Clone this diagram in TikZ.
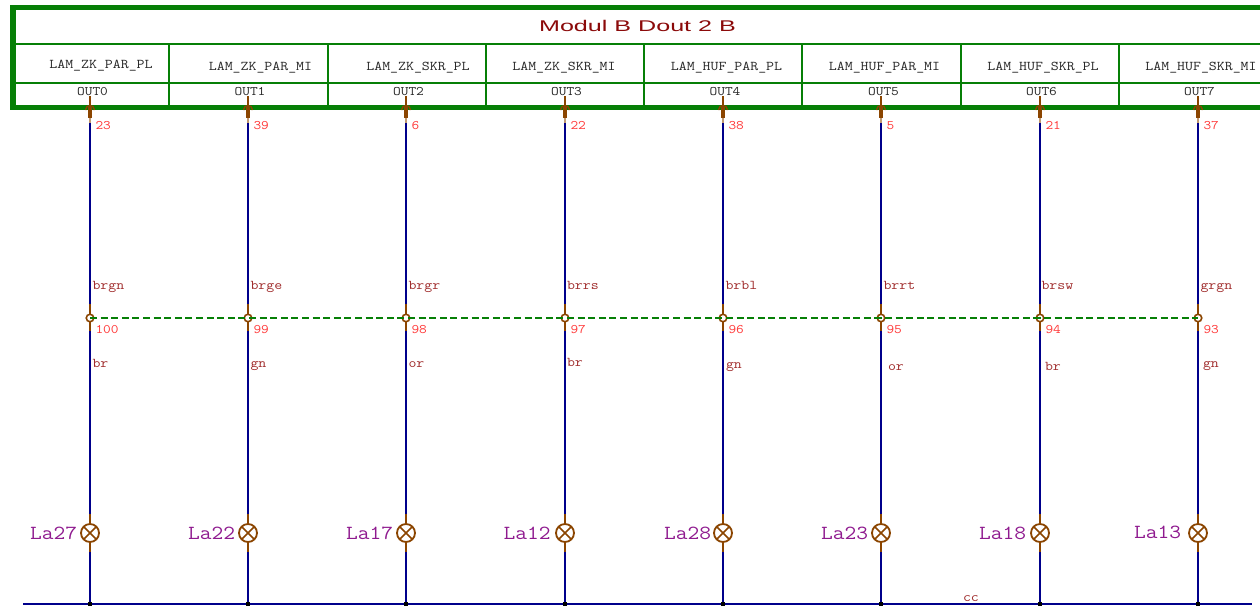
\documentclass[tikz,border=0pt]{standalone}
\usepackage{fontspec}
\usetikzlibrary{calc}
\setmainfont{Liberation Sans}
\newfontfamily\wmono[FakeStretch=1.15]{Latin Modern Mono}
\newfontfamily\lmono[FakeStretch=1.14]{Latin Modern Mono}
\newfontfamily\tsans[FakeStretch=1.62]{Liberation Sans}
\definecolor{fgreen}{HTML}{067F06}
\definecolor{wblue}{HTML}{00008B}
\definecolor{wbrown}{HTML}{8B4500}
\definecolor{ctext}{HTML}{A02C2C}
\definecolor{rednum}{HTML}{FF3838}
\definecolor{lampname}{HTML}{8F1A8F}
\definecolor{titlered}{HTML}{8B0A0A}
\tikzset{
  x=1pt,y=-1pt,
  txt/.style={inner sep=0pt,outer sep=0pt},
  sig/.style={txt,anchor=base,font=\wmono\fontsize{13.4}{14}\selectfont,text=black!85},
  pinlab/.style={txt,anchor=base,font=\wmono\fontsize{13}{14}\selectfont,text=black!85},
  cable/.style={txt,anchor=base west,font=\wmono\fontsize{13.4}{14}\selectfont,text=ctext},
  num/.style={txt,anchor=base west,font=\wmono\fontsize{13}{14}\selectfont,text=rednum},
  lamplab/.style={txt,anchor=base east,font=\lmono\fontsize{20}{22}\selectfont,text=lampname},
  frameline/.style={draw=fgreen,line width=2pt},
  wire/.style={draw=wblue,line width=2pt},
  stub/.style={draw=wbrown,line width=2pt},
  pinnode/.style={circle,minimum size=2pt,inner sep=0pt,outer sep=0pt},
  junc/.style={circle,draw=wbrown,line width=1.6pt,minimum size=7.5pt,inner sep=0pt,outer sep=0pt},
  lamp/.style={circle,draw=wbrown,line width=1.8pt,minimum size=18pt,inner sep=0pt,outer sep=0pt},
  dotb/.style={rectangle,fill=black,minimum size=4pt,inner sep=0pt,outer sep=0pt},
  bridge/.style={draw=fgreen,line width=2pt,dash pattern=on 7pt off 3.6pt},
}
\begin{document}
\begin{tikzpicture}
\useasboundingbox (0,0) rectangle (1260,606);
\clip (0,0) rectangle (1260,606);
\fill[white] (0,0) rectangle (1260,606);
% module frame
\draw[draw=fgreen,line width=5.6pt] (12.8,7.3) rectangle (1300,107.3);
\draw[frameline] (15,44) -- (1300,44);
\draw[frameline] (15,83) -- (1300,83);
\foreach \x in {169,328,486,644,802,961,1119}{\draw[frameline] (\x,44) -- (\x,105);}
\node[txt,anchor=base,font=\tsans\fontsize{15.5}{18}\selectfont,text=titlered] (title) at (637.5,31) {Modul B Dout 2 B};
% signal names
\foreach \n/\x/\y/\t in {0/101/68/LAM\_ZK\_PAR\_PL,1/260.5/70/LAM\_ZK\_PAR\_MI,2/418/70/LAM\_ZK\_SKR\_PL,3/564/70/LAM\_ZK\_SKR\_MI,4/726.5/70/LAM\_HUF\_PAR\_PL,5/884.5/70/LAM\_HUF\_PAR\_MI,6/1043/70/LAM\_HUF\_SKR\_PL,7/1201/70/LAM\_HUF\_SKR\_MI}{
  \node[sig] (sig\n) at (\x,\y) {\t};
}
% channels: index, x, pin label x, pin number, junction number, lamp name, lamp label edge, lamp label baseline
\foreach \n/\x/\ox/\pn/\jn/\la/\lx/\ly in {
 0/90/92.5/23/100/La27/77/539,
 1/248/250/39/99/La22/235/539,
 2/406/408.5/6/98/La17/393/539,
 3/565/566.5/22/97/La12/550.5/539,
 4/723/725/38/96/La28/711/539,
 5/881/883.5/5/95/La23/868/539,
 6/1040/1041.5/21/94/La18/1026/539,
 7/1198/1199.5/37/93/La13/1181/538}{
  \node[pinlab] (out\n) at (\ox,95) {OUT\n};
  \node[pinnode] (pin\n) at (\x,110) {};
  \node[junc] (j\n) at (\x,318) {};
  \node[lamp] (l\n) at (\x,533) {};
  \node[dotb] (b\n) at (\x,604) {};
  \coordinate (pt\n) at (\x,96);
  \coordinate (pm\n) at (\x,123);
  \coordinate (ja\n) at (\x,304);
  \coordinate (jb\n) at (\x,331);
  \coordinate (la\n) at (\x,514);
  \coordinate (lb\n) at (\x,552);
  % blue wires
  \draw[wire] (pm\n) -- (ja\n);
  \draw[wire] (jb\n) -- (la\n);
  \draw[wire] (lb\n) -- (b\n.north);
  % brown stubs
  \draw[stub] (pt\n) -- (pin\n.center);
  \draw[draw=wbrown,line width=3.8pt] ($(pin\n.center)+(0,-3)$) -- ++(0,11);
  \draw[draw=wbrown!55,line width=2pt] ($(pin\n.center)+(0,8)$) -- (pm\n);
  \draw[draw=wbrown,line width=1.4pt] ($(pin\n.center)+(-4.5,0)$) .. controls ($(pin\n.center)+(-4.5,-6)$) and ($(pin\n.center)+(4.5,-6)$) .. ($(pin\n.center)+(4.5,0)$);
  \draw[stub] (ja\n) -- (j\n.north);
  \draw[stub] (j\n.south) -- (jb\n);
  \draw[stub] (la\n) -- (l\n.north);
  \draw[stub] (l\n.south) -- (lb\n);
  % lamp cross
  \draw[draw=wbrown,line width=1.6pt] (l\n.45) -- (l\n.225) (l\n.135) -- (l\n.315);
  % labels
  \node[num] (pnum\n) at (\x+5.5,129.5) {\pn};
  \node[num] (jnum\n) at (\x+5.5,333) {\jn};
  \node[lamplab] (lname\n) at (\lx,\ly) {\la};
}
% green bridge
\draw[bridge] (j0.center) -- (j1.center) -- (j2.center) -- (j3.center) -- (j4.center) -- (j5.center) -- (j6.center) -- (j7.center);
% cable colours
\foreach \i/\x/\t in {a/92.5/brgn,b/250.5/brge,c/408.5/brgr,d/567/brrs,e/725.5/brbl,f/883.5/brrt,g/1041.5/brsw,h/1200.5/grgn}{
  \node[cable] (ct\i) at (\x,289.3) {\t};
}
\foreach \i/\x/\y/\t in {a/92.5/367.5/br,b/250.5/367.5/gn,c/408.5/367.5/or,d/567/366.5/br,e/726/368/gn,f/888/370.5/or,g/1045/370.5/br,h/1203/367.5/gn}{
  \node[cable] (cb\i) at (\x,\y) {\t};
}
% common bus
\coordinate (busL) at (23,604);
\coordinate (busR) at (1252,604);
\draw[draw=wblue,line width=2pt] (busL) -- (busR);
\foreach \n in {0,...,7}{\node[dotb] at (b\n) {};}
\node[cable] (cc) at (963,601.5) {cc};
\end{tikzpicture}
\end{document}
